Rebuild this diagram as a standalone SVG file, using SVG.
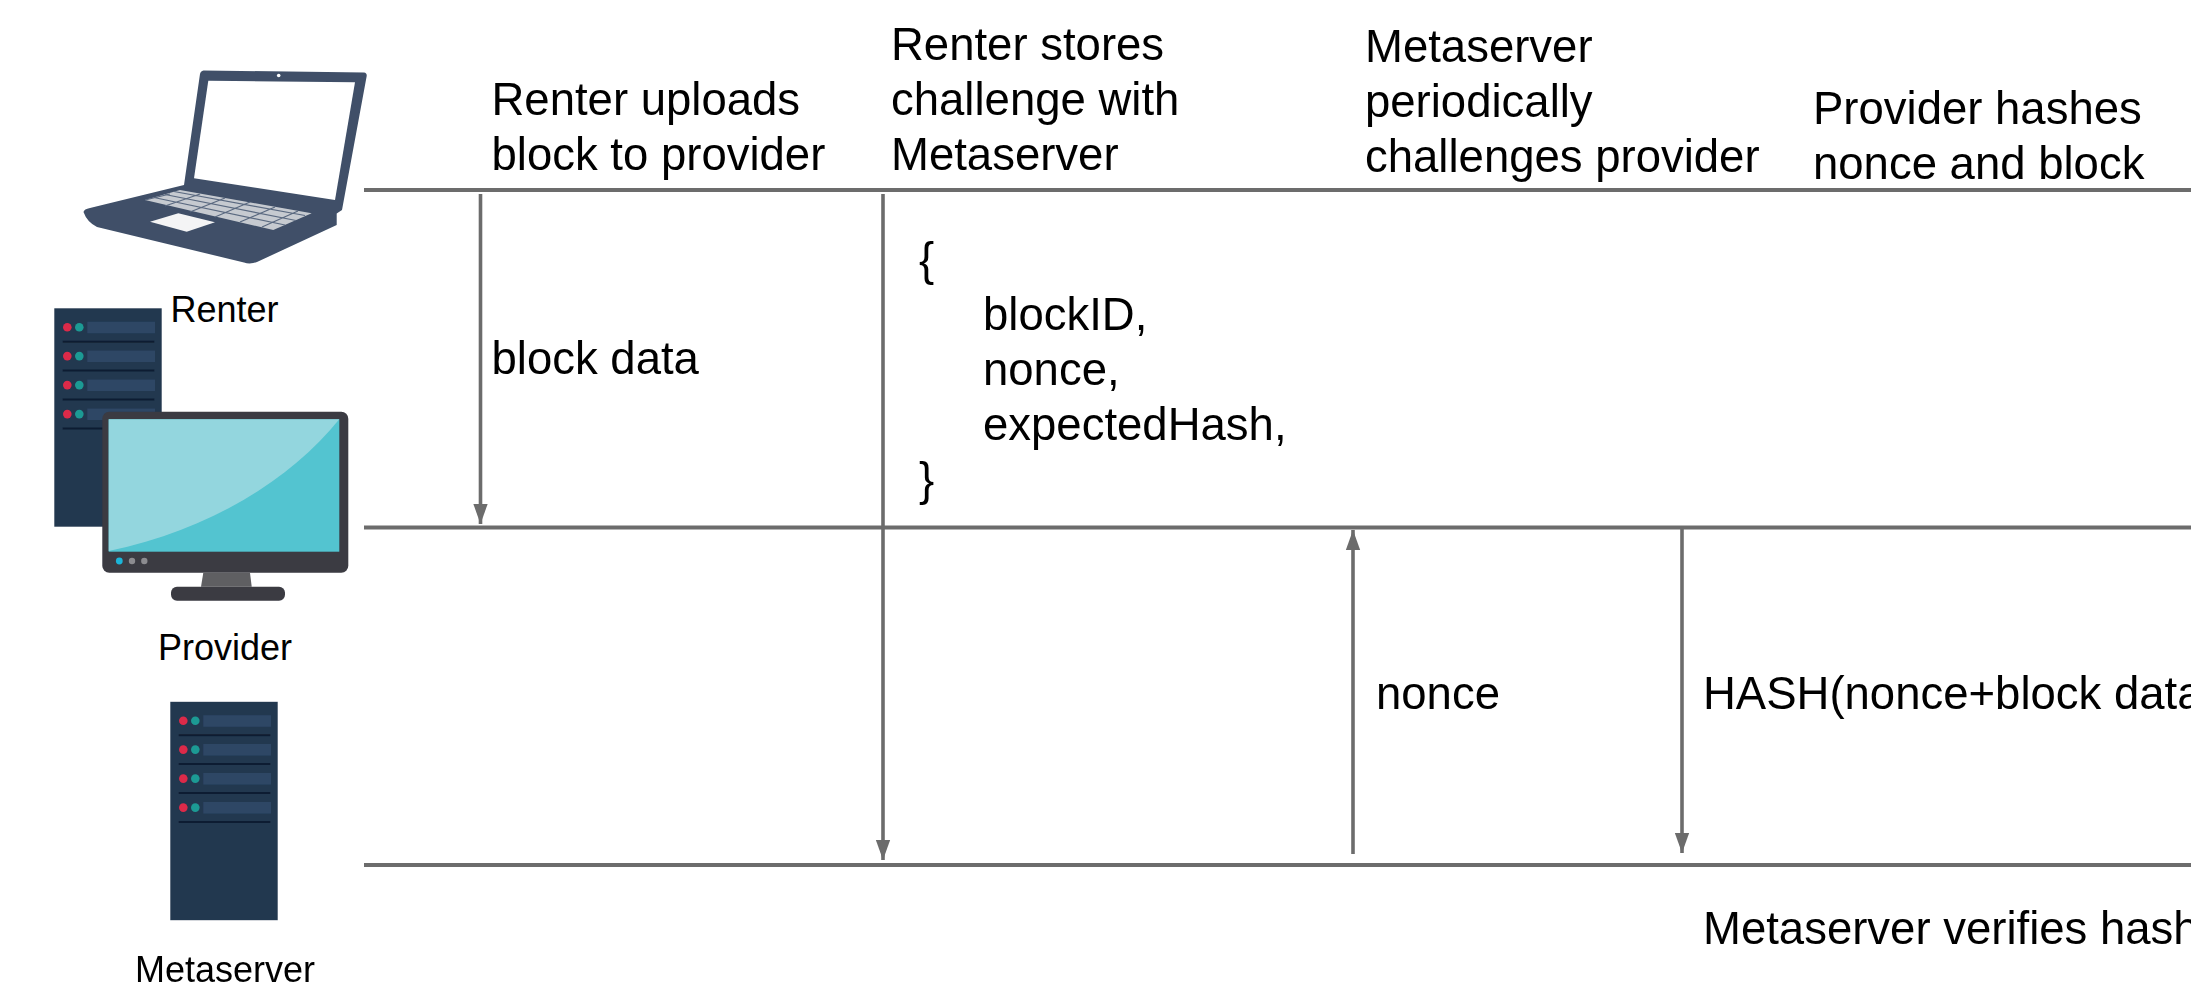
<svg xmlns="http://www.w3.org/2000/svg" xmlns:xlink="http://www.w3.org/1999/xlink" width="2191" height="984" viewBox="0 0 2191 984">
<style>
text{font-family:"Liberation Sans",Arial,sans-serif;fill:#000}
.t{font-size:45.5px}
.s{font-size:36px}
.lane{stroke:#6c6c6c;stroke-width:4;fill:none}
.arr{stroke:#6c6c6c;stroke-width:3.6;fill:none;marker-end:url(#ah)}
</style>
<defs>
<marker id="ah" markerUnits="userSpaceOnUse" markerWidth="20" markerHeight="29" refX="28" refY="10" viewBox="0 0 28 20" orient="auto"><path d="M0 0L28 10L0 20Z" fill="#6c6c6c"/></marker>
<filter id="soft" x="-5%" y="-5%" width="110%" height="110%"><feGaussianBlur stdDeviation="0.7"/></filter>
<g id="srv">
<rect x="54.3" y="308.3" width="107.4" height="218.4" fill="#22374f"/>
<g id="row"><rect x="87.3" y="321.7" width="67.7" height="11.6" fill="#2d4765"/><circle cx="67.3" cy="327.3" r="4.3" fill="#dc2a4a"/><circle cx="79.3" cy="327.3" r="4.3" fill="#1f9a94"/><rect x="62.7" y="340.7" width="91.6" height="2" fill="#101f30"/></g>
<use xlink:href="#row" href="#row" y="28.8"/>
<use xlink:href="#row" href="#row" y="57.8"/>
<use xlink:href="#row" href="#row" y="86.8"/>
</g>
</defs>
<rect width="2191" height="984" fill="#fff"/>
<g id="connectors">
<line class="lane" x1="364" y1="190" x2="2191" y2="190"/>
<line class="lane" x1="364" y1="527.5" x2="2191" y2="527.5"/>
<line class="lane" x1="364" y1="865" x2="2191" y2="865"/>
<line class="arr" x1="480.5" y1="194" x2="480.5" y2="524"/>
<line class="arr" x1="883" y1="194" x2="883" y2="860"/>
<line class="arr" x1="1353" y1="854" x2="1353" y2="530"/>
<line class="arr" x1="1682" y1="529" x2="1682" y2="853"/>
</g>
<g id="renter">
<g filter="url(#soft)">
<path d="M203.5 70.5L364 72.5Q367 73 366.7 76L342 210L336.7 213.5V225L257 262Q250 264.5 244 262.5L97 227Q87 222 83.5 212Q84 209 90 208L184 185L200 74Q200.5 71 203.5 70.5Z" fill="#3f4f68"/>
<path d="M208.3 80.7L355 82.3L335 200L194 178.3Z" fill="#fff"/>
<circle cx="278.7" cy="75.5" r="1.8" fill="#fff"/>
<path d="M145 200L180 190L311.7 213.3L273.3 230Z" fill="#c6cad0"/>
<path d="M154 197.5L285 225M165 194.5L296 220.5M174 191.5L305 215.5M170 194L145 200M200 194L165 206M225 198L190 212M250 202L215 217M275 207L240 222M298 211L262 227" stroke="#5a6980" stroke-width="1.2" fill="none"/>
<path d="M150 221.7L178.3 213.3L215 222.3L186.7 231.7Z" fill="#f4f4f5"/>
</g>
<text class="s" x="170.5" y="322">Renter</text>
</g>
<g id="provider">
<g filter="url(#soft)">
<use xlink:href="#srv" href="#srv"/>
<rect x="102.3" y="411.7" width="246" height="161" rx="7" fill="#3a3a42"/>
<rect x="108.7" y="419.3" width="230.6" height="132.4" fill="#52c4d0"/>
<path d="M108.7 419.3H339.3C290 480 210 530 108.7 551Z" fill="#93d6de"/>
<circle cx="119.3" cy="561" r="3.4" fill="#1cb5d8"/><circle cx="132" cy="561" r="3.2" fill="#8c8c90"/><circle cx="144.3" cy="561" r="3.2" fill="#8c8c90"/>
<path d="M203.3 572.7H250L251.7 586.7H201Z" fill="#5e5e62"/>
<rect x="171" y="586.7" width="114" height="14" rx="6" fill="#3a3a42"/>
</g>
<text class="s" x="158" y="660">Provider</text>
</g>
<g id="metaserver">
<use xlink:href="#srv" href="#srv" transform="translate(116 393.5)" filter="url(#soft)"/>
<text class="s" x="135" y="982">Metaserver</text>
</g>
<g id="labels">
<text class="t" x="491.5" y="114.5">Renter uploads</text>
<text class="t" x="491.5" y="169.5">block to provider</text>
<text class="t" x="891" y="60">Renter stores</text>
<text class="t" x="891" y="115">challenge with</text>
<text class="t" x="891" y="170">Metaserver</text>
<text class="t" x="1365" y="62">Metaserver</text>
<text class="t" x="1365" y="117">periodically</text>
<text class="t" x="1365" y="172">challenges provider</text>
<text class="t" x="1813" y="124">Provider hashes</text>
<text class="t" x="1813" y="179">nonce and block</text>
<text class="t" x="491.5" y="374">block data</text>
<text class="t" x="919" y="275">{</text>
<text class="t" x="983" y="330">blockID,</text>
<text class="t" x="983" y="385">nonce,</text>
<text class="t" x="983" y="440">expectedHash,</text>
<text class="t" x="919" y="495">}</text>
<text class="t" x="1376" y="709">nonce</text>
<text class="t" x="1703" y="709">HASH(nonce+block data</text>
<text class="t" x="1703" y="944">Metaserver verifies hash</text>
</g>
</svg>
